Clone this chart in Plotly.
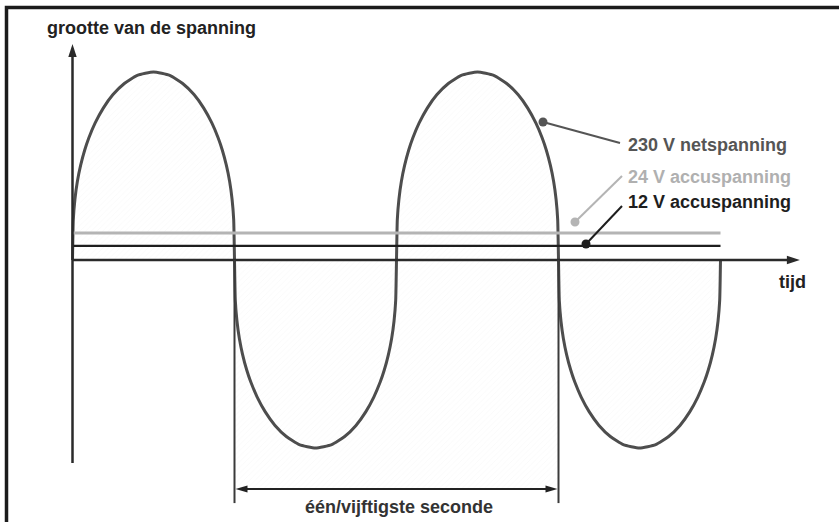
import plotly.graph_objects as go

W, H = 839, 522

# ---------------- diagram data ----------------
# time in ms, level in units of the 230 V peak
HALF_PERIOD_MS = 10          # 50 Hz -> 20 ms period
N_HALF_PERIODS = 4           # two full periods drawn
lobe_frac = [0, 0.005, 0.015, 0.03, 0.05, 0.075, 0.1, 0.14, 0.19, 0.25, 0.32, 0.4,
             0.5, 0.6, 0.68, 0.75, 0.81, 0.86, 0.9, 0.925, 0.95, 0.97, 0.985, 0.995, 1.0]
lobe_level = [0, 0.215, 0.323, 0.417, 0.503, 0.584, 0.648, 0.729, 0.808, 0.880, 0.939, 0.982,
              1.0, 0.982, 0.939, 0.880, 0.808, 0.729, 0.648, 0.584, 0.503, 0.417, 0.323, 0.215, 0]

dc_levels = [0.144, 0.075]                  # 24 V, 12 V (schematic heights)
dc_names = ["24 V accuspanning", "12 V accuspanning"]
dc_colors = ["#b4b4b4", "#1e1e1e"]
dc_widths = [3, 2.2]
wave_end_ms = 40

span_start_ms, span_end_ms = 10, 30         # one period = 1/50 s
span_label = "één/vijftigste seconde"
span_arrow_level = -1.218
span_line_bottom = -1.293

x_axis_end = 44.9
y_axis_top = 1.149
y_axis_bottom = -1.08

y_title = "grootte van de spanning"
x_title = "tijd"
mains_label = "230 V netspanning"

# ---------------- build the wave from the lobe profile ----------------
t, v = [], []
for k in range(N_HALF_PERIODS):
    sign = 1 if k % 2 == 0 else -1
    for i, (f, lv) in enumerate(zip(lobe_frac, lobe_level)):
        if k > 0 and i == 0:
            continue
        t.append((k + f) * HALF_PERIOD_MS)
        v.append(sign * lv)

# pixel mapping (layout only)
X0PX, PX_PER_MS = 72.5, 16.2
Y0PX, PX_PER_UNIT = 260.0, 188.0
xrange_ = [(0 - X0PX) / PX_PER_MS, (W - X0PX) / PX_PER_MS]
yrange_ = [(Y0PX - H) / PX_PER_UNIT, Y0PX / PX_PER_UNIT]


def xp(tt):
    return X0PX + tt * PX_PER_MS


def yp(vv):
    return Y0PX - vv * PX_PER_UNIT


def pp(x, y):
    return x / W, 1 - y / H


def arrow_path(tipx, tipy, dx, dy, length=13, half=4.2):
    bx, by = tipx - dx * length, tipy - dy * length
    px_, py_ = -dy, dx
    pts = [(tipx, tipy), (bx + px_ * half, by + py_ * half), (bx - px_ * half, by - py_ * half)]
    pts = [pp(a, b) for a, b in pts]
    return "M {},{} L {},{} L {},{} Z".format(*[c for p in pts for c in p])


AXIS = "#2a2a2a"
WAVE = "#4d4d4d"
FONT = "Liberation Sans, Arial, sans-serif"

fig = go.Figure()

pattern = dict(shape="/", fgcolor="#e6e6e6", bgcolor="white", size=4, solidity=0.1)

# shaded period block
fig.add_trace(go.Scatter(
    x=[span_start_ms, span_end_ms, span_end_ms, span_start_ms, span_start_ms],
    y=[0, 0, span_arrow_level, span_arrow_level, 0],
    mode="none", fill="toself", fillpattern=pattern, hoverinfo="skip"))

# the 230 V wave
fig.add_trace(go.Scatter(
    x=t, y=v, mode="lines", line=dict(color=WAVE, width=3, shape="spline", smoothing=0.5),
    fill="tozeroy", fillpattern=pattern, hoverinfo="skip"))

# DC battery lines
for lvl, col, wd in zip(dc_levels, dc_colors, dc_widths):
    fig.add_trace(go.Scatter(x=[0, wave_end_ms], y=[lvl, lvl], mode="lines",
                             line=dict(color=col, width=wd), hoverinfo="skip"))

shapes = []
# axes
shapes.append(dict(type="line", xref="x", yref="y", x0=0, x1=x_axis_end - 0.6, y0=0, y1=0,
                   line=dict(color=AXIS, width=2.5)))
shapes.append(dict(type="line", xref="x", yref="y", x0=0, x1=0, y0=y_axis_bottom, y1=y_axis_top - 0.05,
                   line=dict(color=AXIS, width=2.5)))
shapes.append(dict(type="path", xref="paper", yref="paper",
                   path=arrow_path(xp(x_axis_end), yp(0), 1, 0), fillcolor=AXIS, line=dict(width=0)))
shapes.append(dict(type="path", xref="paper", yref="paper",
                   path=arrow_path(xp(0), yp(y_axis_top), 0, -1), fillcolor=AXIS, line=dict(width=0)))

# period markers
for xs in (span_start_ms, span_end_ms):
    shapes.append(dict(type="line", xref="x", yref="y", x0=xs, x1=xs, y0=0, y1=span_line_bottom,
                       line=dict(color="#3a3a3a", width=2)))
shapes.append(dict(type="line", xref="x", yref="y", x0=span_start_ms + 0.5, x1=span_end_ms - 0.5,
                   y0=span_arrow_level, y1=span_arrow_level, line=dict(color="#222", width=2)))
shapes.append(dict(type="path", xref="paper", yref="paper",
                   path=arrow_path(xp(span_start_ms) + 1, yp(span_arrow_level), -1, 0, 12, 3.6),
                   fillcolor="#222", line=dict(width=0)))
shapes.append(dict(type="path", xref="paper", yref="paper",
                   path=arrow_path(xp(span_end_ms) - 1, yp(span_arrow_level), 1, 0, 12, 3.6),
                   fillcolor="#222", line=dict(width=0)))

# leader lines with dots
leaders = [((543, 122), (620, 143), "#555555"),
           ((575, 222), (622, 176), "#b4b4b4"),
           ((586, 244), (622, 206), "#1e1e1e")]
for (dx_, dy_), (ex, ey), col in leaders:
    x0, y0 = pp(dx_, dy_)
    x1, y1 = pp(ex, ey)
    shapes.append(dict(type="line", xref="paper", yref="paper", x0=x0, y0=y0, x1=x1, y1=y1,
                       line=dict(color=col, width=2)))
    r = 4.5
    a0, b0 = pp(dx_ - r, dy_ + r)
    a1, b1 = pp(dx_ + r, dy_ - r)
    shapes.append(dict(type="circle", xref="paper", yref="paper", x0=a0, y0=b0, x1=a1, y1=b1,
                       fillcolor=col, line=dict(width=0)))

# frame (top and left border)
fx0, fy0 = pp(6.5, H + 5)
fx1, fy1 = pp(6.5, 7.5)
fx2, fy2 = pp(W + 5, 7.5)
shapes.append(dict(type="path", xref="paper", yref="paper",
                   path=f"M {fx0},{fy0} L {fx1},{fy1} L {fx2},{fy2}",
                   line=dict(color="#1c1c1c", width=3.5)))

annotations = []


def label(text, xpx, ypx, color, size=18, xanchor="left"):
    x, y = pp(xpx, ypx)
    annotations.append(dict(text=f"<b>{text}</b>", x=x, y=y, xref="paper", yref="paper",
                            xanchor=xanchor, yanchor="middle", showarrow=False,
                            font=dict(family=FONT, size=size, color=color)))


label(y_title, 45, 28, "#222222")
label(x_title, 777, 282, "#222222")
label(mains_label, 626, 145, "#555555")
label(dc_names[0], 626, 177, "#b0b0b0")
label(dc_names[1], 626, 202, "#1e1e1e")
label(span_label, 399, 507, "#333333", xanchor="center")

fig.update_layout(
    width=W, height=H, margin=dict(l=0, r=0, t=0, b=0, pad=0),
    paper_bgcolor="white", plot_bgcolor="white", showlegend=False,
    xaxis=dict(range=xrange_, visible=False, fixedrange=True),
    yaxis=dict(range=yrange_, visible=False, fixedrange=True),
    shapes=shapes, annotations=annotations,
)

fig.write_html("out.html", config={"displayModeBar": False},
               post_script="document.body.style.margin='0';document.body.style.overflow='hidden';")
